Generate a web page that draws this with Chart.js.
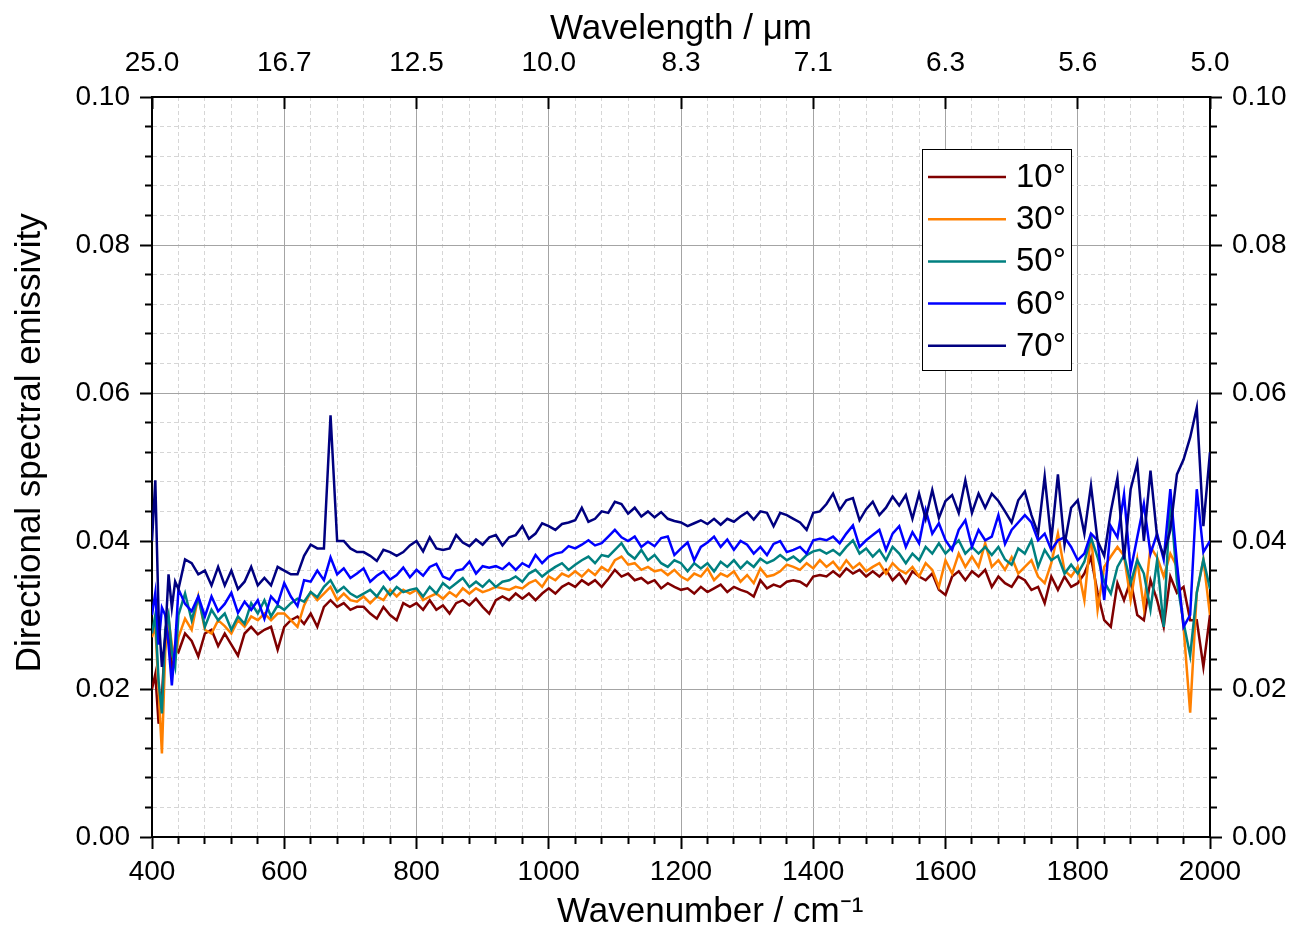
<!DOCTYPE html>
<html>
<head>
<meta charset="utf-8">
<script src="https://cdn.jsdelivr.net/npm/chart.js@4.4.1/dist/chart.umd.min.js"></script>
<style>
  html, body { margin: 0; background: #fff; }
  #wrap { width: 1292px; height: 934px; }
</style>
</head>
<body>
<div id="wrap"><canvas id="chart"></canvas></div>
<script>
// --- данные ---
// wavenumber grid, cm-1 (finer at the low end)
const wavenumber = [400, 405, 410, 415, 420, 425, 430, 435, 440];
for (let w = 450; w <= 2000; w += 10) wavenumber.push(w);

const angles = ["10°", "30°", "50°", "60°", "70°"];
const colors = ["#800000", "#ff8000", "#008080", "#0000ff", "#000080"];

const wavenumberLabels = ["400", "600", "800", "1000", "1200", "1400", "1600", "1800", "2000"];
const wavelengthLabels = ["25.0", "16.7", "12.5", "10.0", "8.3", "7.1", "6.3", "5.6", "5.0"];
const emissivityLabels = ["0.00", "0.02", "0.04", "0.06", "0.08", "0.10"];

const e10 = [
  0.020, 0.022, 0.0153, 0.019, 0.027, 0.0285, 0.022, 0.0255, 0.025,
  0.0275, 0.0265, 0.0244, 0.0275, 0.028, 0.0258, 0.0275, 0.026, 0.0245, 0.0275,
  0.0284, 0.0274, 0.028, 0.0284, 0.0253, 0.0284, 0.0293, 0.0298, 0.0288, 0.0302,
  0.0284, 0.0311, 0.032, 0.0311, 0.0316, 0.0307, 0.0311, 0.0311,
  0.0302, 0.0295, 0.0311, 0.030, 0.0293, 0.0316, 0.0311, 0.0316, 0.0307, 0.032,
  0.0307, 0.0313, 0.0302, 0.0316, 0.032, 0.0313, 0.0322, 0.0311, 0.0302, 0.032,
  0.0325, 0.032, 0.0329, 0.0322, 0.0329, 0.032, 0.0329, 0.0336, 0.0329, 0.0338, 0.0343, 0.0338,
  0.0347, 0.0341, 0.0347, 0.0338, 0.0349, 0.0361, 0.0352, 0.0356, 0.0347, 0.035,
  0.0343, 0.0347, 0.0336, 0.0343, 0.0338, 0.0334, 0.0336, 0.0329, 0.0338, 0.0331,
  0.0336, 0.0341, 0.0331, 0.0338, 0.0334, 0.0331, 0.0325, 0.0347, 0.0336, 0.0341, 0.0338, 0.0345,
  0.0347, 0.0345, 0.0339, 0.0352, 0.0354, 0.0352, 0.0359, 0.0352, 0.0363, 0.0356,
  0.0361, 0.0352, 0.0359, 0.0352, 0.0361, 0.0347, 0.0356, 0.0343, 0.0359, 0.0352,
  0.0347, 0.0356, 0.0334, 0.0327, 0.0352, 0.0359, 0.0347, 0.0359, 0.0352, 0.0361, 0.0338, 0.0352,
  0.0343, 0.0338, 0.0352, 0.0347, 0.0334, 0.0338, 0.0316, 0.0352, 0.0334, 0.0352,
  0.0338, 0.0343, 0.0356, 0.0378, 0.033, 0.0293, 0.0284, 0.0343, 0.032, 0.0347,
  0.030, 0.0293, 0.0347, 0.032, 0.0284, 0.0352, 0.033, 0.0338, 0.0293, 0.0293, 0.023, 0.030
];
const e30 = [
  0.027, 0.0285, 0.020, 0.0113, 0.025, 0.0295, 0.026, 0.024, 0.027,
  0.0295, 0.028, 0.0325, 0.028, 0.0275, 0.0293, 0.0285, 0.0275, 0.0293, 0.0284,
  0.0298, 0.0293, 0.0302, 0.0293, 0.0302, 0.0302, 0.0293, 0.0284, 0.0313, 0.0331,
  0.032, 0.0329, 0.0338, 0.032, 0.0329, 0.032, 0.0318, 0.0325,
  0.0316, 0.0325, 0.032, 0.0334, 0.0325, 0.0334, 0.0329, 0.0334, 0.032, 0.0325,
  0.0329, 0.0322, 0.0331, 0.0325, 0.0336, 0.0329, 0.0336, 0.0331, 0.0334, 0.0338,
  0.0336, 0.0334, 0.0338, 0.0336, 0.0343, 0.0347, 0.0338, 0.0352, 0.0347, 0.0356, 0.0352, 0.0359,
  0.0352, 0.0361, 0.0354, 0.0365, 0.0359, 0.0374, 0.0379, 0.0368, 0.037, 0.0361,
  0.0365, 0.0359, 0.0361, 0.0354, 0.0361, 0.0352, 0.0347, 0.0356, 0.0352, 0.0363,
  0.0347, 0.0356, 0.0352, 0.0359, 0.0345, 0.0354, 0.0343, 0.0363, 0.0352, 0.0354, 0.0359, 0.0368,
  0.0365, 0.0361, 0.037, 0.0363, 0.0374, 0.0365, 0.0372, 0.0361, 0.0374, 0.0363,
  0.037, 0.0359, 0.0365, 0.037, 0.0356, 0.037, 0.0361, 0.0356, 0.0365, 0.0352,
  0.037, 0.0361, 0.0338, 0.0374, 0.0356, 0.0383, 0.0365, 0.0379, 0.0365, 0.0397, 0.0365, 0.0374,
  0.0361, 0.0378, 0.0356, 0.0365, 0.0374, 0.0352, 0.0343, 0.037, 0.041, 0.036,
  0.0352, 0.0365, 0.032, 0.041, 0.0307, 0.0365, 0.0379, 0.0392, 0.038, 0.032,
  0.0375, 0.031, 0.0392, 0.0378, 0.0352, 0.0383, 0.0365, 0.0284, 0.0168, 0.033, 0.0375, 0.030
];
const e50 = [
  0.0275, 0.030, 0.021, 0.0167, 0.028, 0.030, 0.025, 0.023, 0.030,
  0.0329, 0.0293, 0.0324, 0.0284, 0.0307, 0.0293, 0.0302, 0.028, 0.0298, 0.0288,
  0.0316, 0.0302, 0.032, 0.0298, 0.0313, 0.0307, 0.0316, 0.0322, 0.0318, 0.0331,
  0.0324, 0.0338, 0.0347, 0.0331, 0.0338, 0.0329, 0.0324, 0.0329,
  0.0334, 0.0325, 0.0338, 0.0327, 0.0338, 0.0331, 0.0334, 0.0336, 0.0325, 0.0338,
  0.0329, 0.0343, 0.0336, 0.0343, 0.035, 0.0338, 0.0345, 0.0338, 0.0347, 0.0338,
  0.0345, 0.0347, 0.0352, 0.0345, 0.0356, 0.0361, 0.0352, 0.0359, 0.0365, 0.037, 0.0361, 0.0368,
  0.0374, 0.0379, 0.037, 0.0381, 0.0379, 0.0388, 0.0397, 0.0383, 0.0376, 0.0388,
  0.0374, 0.0381, 0.037, 0.0365, 0.0374, 0.037, 0.0359, 0.037, 0.0363, 0.037,
  0.0359, 0.0372, 0.0365, 0.0374, 0.0363, 0.0372, 0.0365, 0.0376, 0.037, 0.0374, 0.0381, 0.0374,
  0.0379, 0.0372, 0.0381, 0.0386, 0.0388, 0.0383, 0.0388, 0.0381, 0.0392, 0.0401,
  0.0383, 0.039, 0.0379, 0.0388, 0.0374, 0.0392, 0.0383, 0.037, 0.0383, 0.0374,
  0.0392, 0.0383, 0.0397, 0.0383, 0.0392, 0.0401, 0.0383, 0.0392, 0.0383, 0.0392, 0.0381, 0.0392,
  0.0375, 0.0368, 0.039, 0.0383, 0.0401, 0.0365, 0.0388, 0.0374, 0.038, 0.0356,
  0.0368, 0.0356, 0.0372, 0.0405, 0.0378, 0.0345, 0.0329, 0.0365, 0.0381, 0.0343,
  0.0374, 0.0356, 0.0307, 0.0374, 0.0284, 0.046, 0.0345, 0.029, 0.0245, 0.033, 0.0375, 0.0335
];
const e60 = [
  0.030, 0.033, 0.026, 0.031, 0.030, 0.026, 0.0205, 0.026, 0.0335,
  0.0315, 0.0305, 0.0325, 0.0298, 0.0325, 0.0305, 0.0315, 0.033, 0.0303, 0.0318,
  0.0307, 0.032, 0.0295, 0.0325, 0.0315, 0.0343, 0.0325, 0.0312, 0.0347, 0.0345,
  0.036, 0.0347, 0.0378, 0.0355, 0.0363, 0.035, 0.0356, 0.0363,
  0.0345, 0.0353, 0.0359, 0.0348, 0.0354, 0.0364, 0.0351, 0.0361, 0.0353, 0.0365,
  0.0369, 0.0352, 0.0348, 0.036, 0.0362, 0.0372, 0.0356, 0.0366, 0.0364, 0.0366,
  0.0362, 0.037, 0.0361, 0.037, 0.0365, 0.0381, 0.037, 0.0379, 0.0383, 0.0385, 0.0393, 0.039,
  0.0395, 0.0401, 0.0394, 0.0397, 0.0406, 0.0415, 0.0405, 0.040, 0.0406, 0.0392,
  0.0399, 0.0393, 0.0404, 0.0406, 0.0381, 0.039, 0.0398, 0.0374, 0.0392, 0.0398,
  0.0406, 0.0392, 0.0402, 0.0388, 0.040, 0.0395, 0.0383, 0.0392, 0.0381, 0.0396, 0.040, 0.0385,
  0.0388, 0.0392, 0.0383, 0.0401, 0.0403, 0.0401, 0.0406, 0.0397, 0.041, 0.0421,
  0.0392, 0.0401, 0.0408, 0.0415, 0.0388, 0.041, 0.042, 0.0392, 0.0412, 0.0397,
  0.0442, 0.041, 0.0424, 0.0401, 0.0388, 0.0415, 0.0428, 0.0392, 0.0415, 0.0401, 0.0406, 0.0435,
  0.0396, 0.0415, 0.0425, 0.0435, 0.0425, 0.0401, 0.041, 0.0388, 0.0401, 0.0405,
  0.0392, 0.0374, 0.0383, 0.041, 0.0401, 0.032, 0.042, 0.0405, 0.0463, 0.036,
  0.0405, 0.045, 0.0383, 0.041, 0.0375, 0.047, 0.037, 0.0284, 0.030, 0.047, 0.0385, 0.040
];
const e70 = [
  0.040, 0.0482, 0.030, 0.023, 0.027, 0.0355, 0.031, 0.0345, 0.0335,
  0.0375, 0.037, 0.0355, 0.036, 0.034, 0.0365, 0.034, 0.036, 0.0335, 0.0345,
  0.0365, 0.034, 0.035, 0.034, 0.0365, 0.036, 0.0355, 0.0355, 0.038, 0.0395,
  0.039, 0.039, 0.057, 0.040, 0.040, 0.039, 0.0385, 0.0385,
  0.038, 0.0373, 0.0388, 0.0385, 0.038, 0.0385, 0.0394, 0.040, 0.0386, 0.0405,
  0.039, 0.0388, 0.039, 0.0408, 0.0398, 0.0393, 0.0402, 0.0395, 0.0405, 0.0408,
  0.0394, 0.0405, 0.0408, 0.042, 0.0403, 0.041, 0.0424, 0.042, 0.0415, 0.0423, 0.0425, 0.0428,
  0.0445, 0.0426, 0.043, 0.044, 0.0438, 0.0453, 0.045, 0.0437, 0.0445, 0.0433,
  0.044, 0.0432, 0.0439, 0.043, 0.0427, 0.0425, 0.042, 0.0424, 0.0428, 0.0423,
  0.043, 0.0422, 0.043, 0.0426, 0.0433, 0.0439, 0.0429, 0.044, 0.0438, 0.042, 0.0438, 0.0435,
  0.043, 0.0425, 0.0415, 0.0438, 0.044, 0.045, 0.0464, 0.0442, 0.0455, 0.0458,
  0.0428, 0.0443, 0.0453, 0.0435, 0.0445, 0.046, 0.0448, 0.0462, 0.043, 0.0464,
  0.043, 0.0469, 0.0431, 0.0454, 0.0462, 0.0438, 0.0482, 0.0438, 0.0464, 0.0445, 0.0464, 0.0454,
  0.044, 0.0425, 0.0455, 0.0467, 0.0435, 0.041, 0.0487, 0.040, 0.049, 0.0395,
  0.0445, 0.0455, 0.041, 0.0475, 0.040, 0.038, 0.044, 0.0485, 0.0375, 0.047,
  0.0505, 0.040, 0.0495, 0.0405, 0.038, 0.0415, 0.049, 0.051, 0.054, 0.058, 0.042, 0.052
];
const series = [e10, e30, e50, e60, e70];

// --- оформление ---
const FONT = "'Liberation Sans', Arial, sans-serif";
Chart.defaults.font.family = FONT;
Chart.defaults.color = "#000";

const isMajor = (v, step) => Math.abs(v / step - Math.round(v / step)) < 1e-6;
const minor = (ctx, step) => ctx.tick && !isMajor(ctx.tick.value, step);

function axisGrid(step, onArea, minorTickDash) {
  return {
    drawOnChartArea: onArea,
    color: ctx => (minor(ctx, step) ? "#d6d6d6" : "#a4a4a4"),
    lineWidth: 1,
    tickLength: 12,
    tickWidth: 2,
    tickColor: "#000",
    tickBorderDash: ctx => (minor(ctx, step) ? minorTickDash : []),
  };
}
const axisBorder = step => ({
  color: "#000",
  width: 2,
  dash: ctx => (minor(ctx, step) ? [4, 3] : []),
});
const tickFont = { size: 28 };
const titleFont = { size: 35 };

// рамка легенды
const legendBox = {
  id: "legendBox",
  afterDatasetsDraw(chart) {
    const { ctx, chartArea } = chart;
    const left = chartArea.right - 288, top = chartArea.top + 52;
    ctx.save();
    ctx.fillStyle = "#fff";
    ctx.fillRect(left, top, 149, 221);
    ctx.strokeStyle = "#000";
    ctx.lineWidth = 1;
    ctx.strokeRect(left + 0.5, top + 0.5, 149, 221);
    ctx.font = "33px " + FONT;
    ctx.textBaseline = "middle";
    chart.data.datasets.forEach((ds, i) => {
      const y = top + 28 + i * 42.2;
      ctx.strokeStyle = ds.borderColor;
      ctx.lineWidth = 2.5;
      ctx.beginPath();
      ctx.moveTo(left + 6, y);
      ctx.lineTo(left + 84, y);
      ctx.stroke();
      ctx.fillStyle = "#000";
      ctx.fillText(ds.label, left + 94, y + 1);
    });
    ctx.restore();
  },
};

new Chart(document.getElementById("chart"), {
  type: "line",
  data: {
    datasets: series.map((s, i) => ({
      label: angles[i],
      data: wavenumber.map((w, j) => ({ x: w, y: s[j] })),
      borderColor: colors[i],
      borderWidth: 2.5,
      pointRadius: 0,
      tension: 0,
      fill: false,
      order: series.length - i,
    })),
  },
  options: {
    responsive: true,
    maintainAspectRatio: false,
    animation: false,
    layout: { padding: 0 },
    plugins: { legend: { display: false }, tooltip: { enabled: false } },
    scales: {
      x: {
        type: "linear", position: "bottom", min: 400, max: 2000,
        afterFit: s => { s.height = 97; },
        border: axisBorder(200),
        grid: axisGrid(200, true, [6, 100]),
        ticks: {
          stepSize: 40, autoSkip: false, maxRotation: 0, minRotation: 0, padding: 6, font: tickFont,
          callback: v => (isMajor(v, 200) ? wavenumberLabels[Math.round((v - 400) / 200)] : ""),
        },
        // leading spaces: the original title sits right of centre
        title: { display: true, text: "      Wavenumber / cm⁻¹", font: titleFont, padding: { top: 0, bottom: 1 } },
      },
      x2: {
        type: "linear", position: "top", min: 400, max: 2000,
        afterFit: s => { s.height = 97; },
        border: { color: "#000", width: 2 },
        grid: { drawOnChartArea: false, tickLength: -12, tickWidth: 2, tickColor: "#000" },
        ticks: {
          stepSize: 200, autoSkip: false, maxRotation: 0, minRotation: 0, padding: 29, font: tickFont,
          callback: (v, i) => wavelengthLabels[i],
        },
        title: { display: true, text: "Wavelength / μm", font: titleFont, padding: { top: 8, bottom: 0 } },
      },
      y: {
        type: "linear", position: "left", min: 0, max: 0.1,
        afterFit: s => { s.width = 152; },
        border: axisBorder(0.02),
        grid: axisGrid(0.02, true, [0, 5, 6, 100]),
        ticks: {
          stepSize: 0.004, autoSkip: false, padding: 10, font: tickFont,
          callback: v => (isMajor(v, 0.02) ? emissivityLabels[Math.round(v / 0.02)] : ""),
        },
        title: { display: true, text: "     Directional spectral emissivity", font: titleFont, padding: { top: 9, bottom: 0 } },
      },
      y2: {
        type: "linear", position: "right", min: 0, max: 0.1,
        afterFit: s => { s.width = 82; },
        border: { color: "#000", width: 2 },
        grid: axisGrid(0.02, false, [6, 100]),
        ticks: {
          stepSize: 0.004, autoSkip: false, padding: 10, font: tickFont,
          callback: v => (isMajor(v, 0.02) ? emissivityLabels[Math.round(v / 0.02)] : ""),
        },
      },
    },
  },
  plugins: [legendBox],
});
</script>
</body>
</html>
